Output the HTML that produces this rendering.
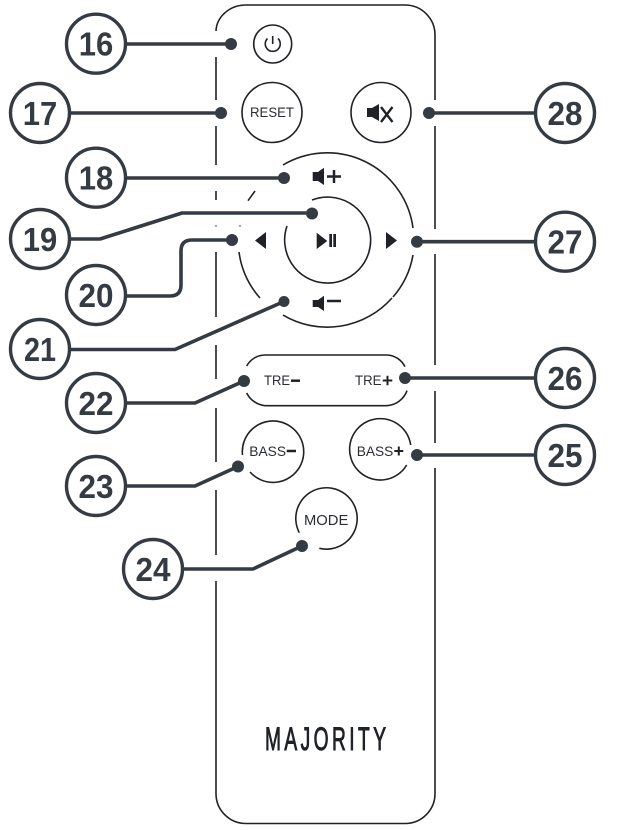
<!DOCTYPE html>
<html>
<head>
<meta charset="utf-8">
<style>
html,body{margin:0;padding:0;background:#fff}
svg{display:block}
.o{fill:none;stroke:#1f2226;stroke-width:1.6;stroke-linecap:butt}
.l{fill:none;stroke:#353b42;stroke-width:3.6;stroke-linejoin:round}
.c{fill:#fff;stroke:#353b42;stroke-width:3.4}
.d{fill:#353b42}
.k{fill:#1f2226}
.m{fill:none;stroke:#1f2226;stroke-width:2.5}
.n{font-family:"Liberation Sans",sans-serif;font-weight:700;font-size:33px;fill:#353b42;text-anchor:middle}
.t{font-family:"Liberation Sans",sans-serif;fill:#2a2d31}
</style>
</head>
<body>
<svg width="622" height="830" viewBox="0 0 622 830" xmlns="http://www.w3.org/2000/svg">
<!-- body -->
<path class="o" d="M216 31 A30 27 0 0 1 246 5 H405 A30 30 0 0 1 435 35 V100 M435 126 V229 M435 254 V365 M435 391 V443 M435 468 V793 A30 30 0 0 1 405 823.5 H246 A30 30 0 0 1 216 793 V581 M216 555 V490 M216 462 V408 M216 379 V345 M216 317 V252 M216 200 V191 M216 165 V126 M216 100 V57"/>
<circle class="k" cx="216" cy="226" r=".7"/><circle class="k" cx="240" cy="226" r=".7"/>

<!-- buttons -->
<circle class="o" cx="272.7" cy="44" r="19"/>
<path class="o" d="M267.5 38.5 A7.5 7.5 0 1 0 278 38.5 M272.7 36 V44"/>
<circle class="o" cx="272" cy="112.5" r="30"/>
<text class="t" x="250" y="117" font-size="13.5" textLength="44" lengthAdjust="spacingAndGlyphs">RESET</text>
<circle class="o" cx="381" cy="112.5" r="30"/>
<polygon class="k" points="367,108 372,108 379,104 379,121 372,117 367,117"/>
<path class="o" style="stroke-width:2.4" d="M381 107 L392.5 122 M392.5 107 L381 122"/>

<!-- D-pad rings -->
<path class="o" d="M283 165 A86.5 86.5 0 0 1 413 228 M413 255 A86.5 86.5 0 0 1 393 297 M392 298 A86.5 86.5 0 0 1 283 315 M260 298 A86.5 86.5 0 0 1 239 252 M248 200.7 L255 191"/>
<path class="o" d="M287 226 A43 43 0 1 0 312 200"/>
<polygon class="k" points="312.7,172 318,172 324,167.7 324,185 318,181 312.7,181"/>
<path class="m" d="M327 176.5 H341 M334 170 V183"/>
<polygon class="k" points="312.7,300 318,300 324,295.7 324,311 318,307 312.7,307"/>
<path class="m" d="M327 301 H341"/>
<polygon class="k" points="266,232 255,240.5 266,249"/>
<polygon class="k" points="386,232 397,240.5 386,249"/>
<polygon class="k" points="316.7,232.7 327.3,241 316.7,249"/>
<rect class="k" x="329.3" y="234" width="2.7" height="13"/>
<rect class="k" x="333.3" y="234" width="2.7" height="13"/>

<!-- TRE pill -->
<path class="o" d="M246.7 366 A21 21 0 0 1 265 355 H386.7 A21 21 0 0 1 405 366.7 M407 390.7 A23 23 0 0 1 386.7 405.7 H265 A23 23 0 0 1 246.7 393"/>
<text class="t" x="264" y="385" font-size="14" textLength="26" lengthAdjust="spacingAndGlyphs">TRE</text>
<path class="m" d="M291 380.7 H300"/>
<text class="t" x="355" y="385" font-size="14" textLength="26.5" lengthAdjust="spacingAndGlyphs">TRE</text>
<path class="m" style="stroke-width:2" d="M382.7 380.5 H392.3 M387.5 375.7 V385.3"/>

<!-- BASS -->
<path class="o" d="M250 472 A30.7 30.7 0 1 0 242.5 455"/>
<text class="t" x="249.3" y="456" font-size="14" textLength="36.7" lengthAdjust="spacingAndGlyphs">BASS</text>
<path class="m" d="M286.7 451 H296"/>
<path class="o" d="M410.7 445 A30.7 30.7 0 1 0 406.7 465"/>
<text class="t" x="356.7" y="456" font-size="14" textLength="36.6" lengthAdjust="spacingAndGlyphs">BASS</text>
<path class="m" style="stroke-width:2" d="M394.3 451 H403.3 M398.8 446.5 V455.5"/>

<!-- MODE -->
<path class="o" d="M299.3 532.7 A30.7 30.7 0 1 1 319.3 548.3"/>
<text class="t" x="304" y="525" font-size="15" textLength="44.3" lengthAdjust="spacingAndGlyphs">MODE</text>

<!-- logo -->
<text transform="translate(265 750) scale(.6 1)" x="0" y="0" font-family="'Liberation Sans',sans-serif" font-size="32" textLength="201.7" lengthAdjust="spacing" fill="#1f2226" stroke="#1f2226" stroke-width="1">MAJORITY</text>

<!-- leaders -->
<path class="l" d="M127 44 H231"/>
<path class="l" d="M71 113 H221"/>
<path class="l" d="M127 178 H284"/>
<path class="l" d="M71 239 H100 L182 213 H312"/>
<path class="l" d="M127 296 H170 Q181 296 181 285 V251 Q181 240 192 240 H232"/>
<path class="l" d="M71 349.5 H175 L284 301.5"/>
<path class="l" d="M127 403 H195 L244 381"/>
<path class="l" d="M127 486 H195 L238 466.5"/>
<path class="l" d="M184 569 H253 L302 546"/>
<path class="l" d="M429 113 H534"/>
<path class="l" d="M417 241.7 H534"/>
<path class="l" d="M405 378 H534"/>
<path class="l" d="M417 455 H534"/>

<!-- dots -->
<g class="d">
<circle cx="231" cy="44" r="6"/>
<circle cx="221" cy="113" r="6"/>
<circle cx="284" cy="178" r="6"/>
<circle cx="312" cy="213.5" r="6"/>
<circle cx="232" cy="240" r="6"/>
<circle cx="284" cy="301.5" r="5.5"/>
<circle cx="244" cy="381" r="6"/>
<circle cx="238" cy="466.5" r="6"/>
<circle cx="302" cy="546" r="6"/>
<circle cx="429" cy="113" r="6"/>
<circle cx="417" cy="241.7" r="6"/>
<circle cx="405" cy="378" r="6"/>
<circle cx="417" cy="455" r="6"/>
</g>

<!-- callouts -->
<circle class="c" cx="96" cy="43.7" r="29.5"/><text class="n" x="96" y="55.5" textLength="34.5" lengthAdjust="spacingAndGlyphs">16</text>
<circle class="c" cx="40" cy="113" r="29.5"/><text class="n" x="40" y="124.8" textLength="34.5" lengthAdjust="spacingAndGlyphs">17</text>
<circle class="c" cx="96" cy="177.7" r="29.5"/><text class="n" x="96" y="189.5" textLength="34.5" lengthAdjust="spacingAndGlyphs">18</text>
<circle class="c" cx="40" cy="239" r="29.5"/><text class="n" x="40" y="250.8" textLength="34.5" lengthAdjust="spacingAndGlyphs">19</text>
<circle class="c" cx="96" cy="295" r="29.5"/><text class="n" x="96" y="306.8" textLength="35" lengthAdjust="spacingAndGlyphs">20</text>
<circle class="c" cx="40" cy="349" r="29.5"/><text class="n" x="40" y="360.8" textLength="32" lengthAdjust="spacingAndGlyphs">21</text>
<circle class="c" cx="96" cy="403" r="29.5"/><text class="n" x="96" y="414.8" textLength="35" lengthAdjust="spacingAndGlyphs">22</text>
<circle class="c" cx="96" cy="486" r="29.5"/><text class="n" x="96" y="497.8" textLength="35" lengthAdjust="spacingAndGlyphs">23</text>
<circle class="c" cx="153" cy="569" r="29.5"/><text class="n" x="153" y="580.8" textLength="35" lengthAdjust="spacingAndGlyphs">24</text>
<circle class="c" cx="565" cy="455" r="29.5"/><text class="n" x="565" y="466.8" textLength="35" lengthAdjust="spacingAndGlyphs">25</text>
<circle class="c" cx="565" cy="378" r="29.5"/><text class="n" x="565" y="389.8" textLength="35" lengthAdjust="spacingAndGlyphs">26</text>
<circle class="c" cx="565" cy="241.7" r="29.5"/><text class="n" x="565" y="253.5" textLength="35" lengthAdjust="spacingAndGlyphs">27</text>
<circle class="c" cx="565" cy="113" r="29.5"/><text class="n" x="565" y="124.8" textLength="35" lengthAdjust="spacingAndGlyphs">28</text>
</svg>
</body>
</html>
